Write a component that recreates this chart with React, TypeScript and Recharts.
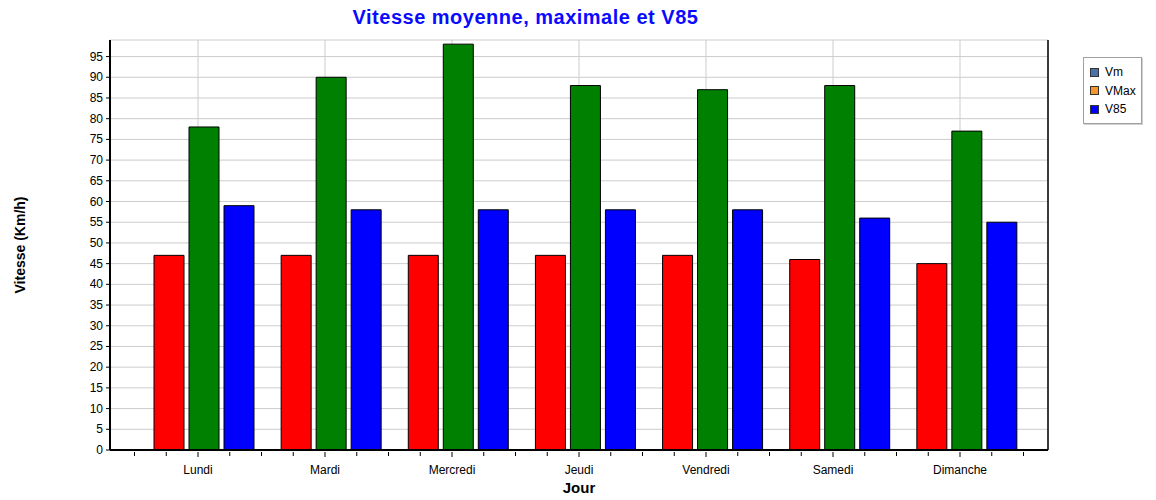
import React from 'react';
import { BarChart, Bar, XAxis, YAxis, CartesianGrid } from 'recharts';

// jours et valeurs
const days = ['Lundi', 'Mardi', 'Mercredi', 'Jeudi', 'Vendredi', 'Samedi', 'Dimanche'];
const vm = [47, 47, 47, 47, 47, 46, 45];
const vmax = [78, 90, 98, 88, 87, 88, 77];
const v85 = [59, 58, 58, 58, 58, 56, 55];
const yTicks = [0, 5, 10, 15, 20, 25, 30, 35, 40, 45, 50, 55, 60, 65, 70, 75, 80, 85, 90, 95];
const legendItems = [
  { name: 'Vm', color: '#4a72a8' },
  { name: 'VMax', color: '#f5962e' },
  { name: 'V85', color: '#0000ff' }
];

const data = days.map((d, i) => ({ day: d, idx: i, vm: vm[i], vmax: vmax[i], v85: v85[i] }));
const yMinor = Array.from({ length: 99 }, (_, i) => i);
const xMinor = Array.from({ length: days.length * 4 + 1 }, (_, i) => i / 4 - 0.5);
const dayCenters = days.map((_, i) => i);
const Y_MAX = 99;

const FONT = '"Liberation Sans", Arial, sans-serif';

const YTick = (props: any) => {
  const { x, y, payload } = props;
  return <g>
      <line x1={x - 4} x2={x} y1={y} y2={y} stroke="#000" />
      <text x={x - 7} y={y + 4} textAnchor="end" fontSize={12} fontFamily={FONT} fill="#000">{payload.value}</text>
    </g>;
};

const XTick = (props: any) => {
  const { x, y, payload } = props;
  const idx = payload.value;
  const isDay = Number.isInteger(idx);
  return <g>
      <line x1={x} x2={x} y1={y} y2={y + (isDay ? 5 : 4)} stroke="#000" />
      {isDay && <text x={x} y={y + 22} textAnchor="middle" fontSize={12} fontFamily={FONT} fill="#000">{days[idx]}</text>}
    </g>;
};

const LegendBox = () => <div style={{
  position: 'absolute',
  left: 1083,
  top: 57,
  border: '1px solid #a0a0a0',
  background: '#fff',
  width: 57,
  padding: '5px 0 4px 0',
  fontFamily: FONT,
  fontSize: 12,
  boxShadow: '1px 1px 0 #d0d0d0'
}}>
    {legendItems.map(it => <div key={it.name} style={{ display: 'flex', alignItems: 'center', height: 18.5, paddingLeft: 6 }}>
        <span style={{ width: 7, height: 7, background: it.color, border: '1px solid #333', marginRight: 6 }} />
        <span>{it.name}</span>
      </div>)}
  </div>;

const App = () => {
  return <div style={{ position: 'absolute', left: 0, top: 0, width: 1156, height: 500, background: '#fff' }}>
      <div style={{ position: 'absolute', left: 0, width: 1051, top: 6, textAlign: 'center', color: '#0a0aff', fontFamily: FONT, fontSize: 20, fontWeight: 'bold', letterSpacing: 0.5 }}>
        Vitesse moyenne, maximale et V85
      </div>
      <div style={{ position: 'absolute', left: 110, width: 938, top: 479, textAlign: 'center', fontFamily: FONT, fontSize: 15, fontWeight: 'bold' }}>
        Jour
      </div>
      <div style={{ position: 'absolute', left: 20, top: 245, transform: 'translate(-50%, -50%) rotate(-90deg)', whiteSpace: 'nowrap', fontFamily: FONT, fontSize: 14, fontWeight: 'bold' }}>
        Vitesse (Km/h)
      </div>
      <BarChart width={1156} height={500} data={data} margin={{ top: 40, right: 107, bottom: 0, left: 0 }} barSize={30} barGap={5}>
        <CartesianGrid xAxisId="grid" stroke="#cccccc" strokeWidth={1} />
        <XAxis xAxisId="num" dataKey="idx" type="number" domain={['dataMin', 'dataMax']} ticks={xMinor} interval={0} padding={{ left: 88, right: 88 }} height={50} tickLine={false} tickSize={0} tick={<XTick />} axisLine={{ stroke: '#000', strokeWidth: 2 }} />
        <XAxis xAxisId="grid" dataKey="idx" type="number" domain={['dataMin', 'dataMax']} ticks={dayCenters} padding={{ left: 88, right: 88 }} height={0} hide />
        <XAxis xAxisId="cat" dataKey="day" padding={{ left: 30, right: 18 }} height={0} hide />
        <XAxis xAxisId="top" orientation="top" dataKey="idx" type="number" height={0} tick={false} tickLine={false} axisLine={{ stroke: '#000', strokeWidth: 1.5 }} />
        <YAxis yAxisId="minor" domain={[0, Y_MAX]} allowDataOverflow ticks={yMinor} interval={0} width={0} tick={false} tickSize={3} tickLine={{ stroke: '#000' }} axisLine={false} />
        <YAxis domain={[0, Y_MAX]} allowDataOverflow ticks={yTicks} interval={0} width={110} tickLine={false} tickSize={0} tickMargin={0} tick={<YTick />} axisLine={{ stroke: '#000', strokeWidth: 2 }} />
        <YAxis yAxisId="r" orientation="right" domain={[0, Y_MAX]} width={1} tick={false} tickLine={false} axisLine={{ stroke: '#000', strokeWidth: 1.5 }} />
        <Bar xAxisId="cat" dataKey="vm" name="Vm" fill="#ff0000" stroke="#000" strokeWidth={1} isAnimationActive={false} />
        <Bar xAxisId="cat" dataKey="vmax" name="VMax" fill="#008000" stroke="#000" strokeWidth={1} isAnimationActive={false} />
        <Bar xAxisId="cat" dataKey="v85" name="V85" fill="#0000ff" stroke="#000" strokeWidth={1} isAnimationActive={false} />
      </BarChart>
      <LegendBox />
    </div>;
};

export default App;
